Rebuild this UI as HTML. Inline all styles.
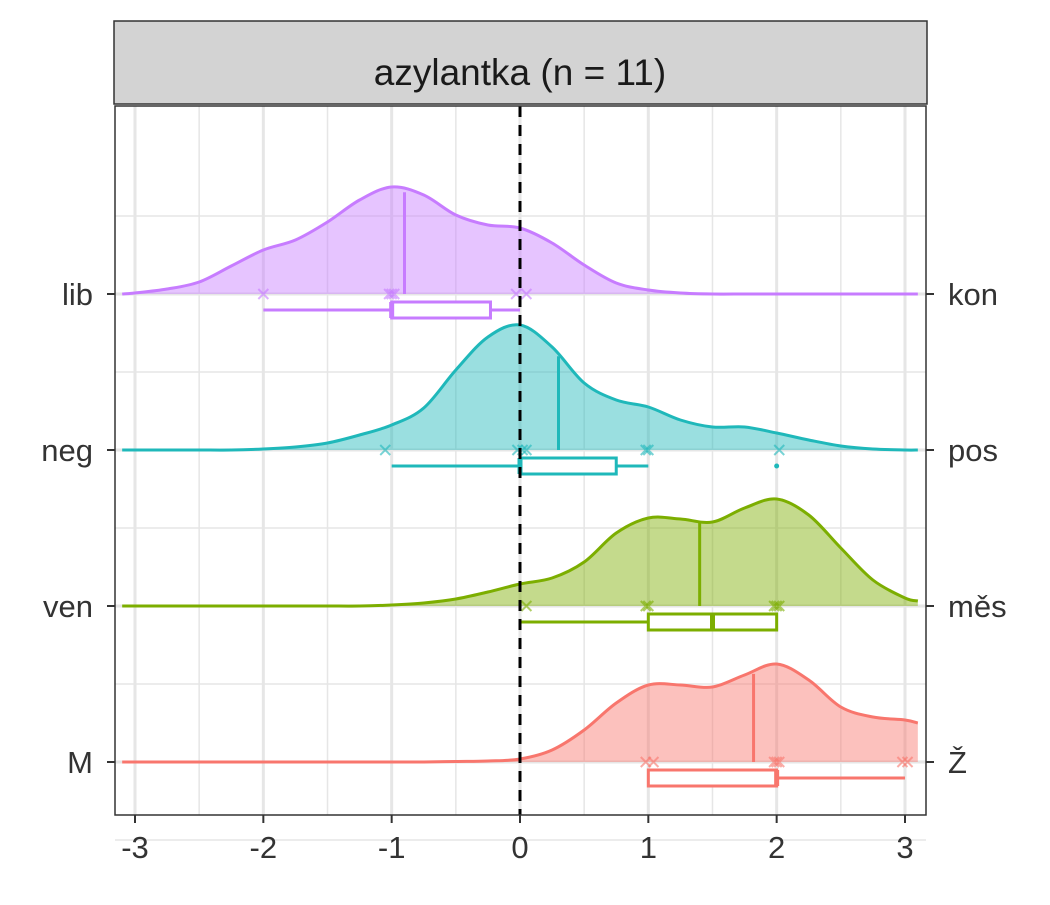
<!DOCTYPE html>
<html><head><meta charset="utf-8"><style>
body{margin:0;background:#fff;}
svg text{font-family:"Liberation Sans",sans-serif;}
</style></head><body>
<svg id="chart" width="1050" height="900" xmlns="http://www.w3.org/2000/svg">
<rect width="1050" height="900" fill="#fff"/>
<g id="strip">
<rect x="114" y="21" width="813" height="83" fill="#D3D3D3" stroke="#333" stroke-width="1.5"/>
<text x="520" y="85" text-anchor="middle" font-size="37" fill="#1a1a1a">azylantka (n = 11)</text>
</g>
<g id="grid"></g>
<g id="marks"></g>
<g id="axes"></g>
</svg>
<script>
const categories = ["lib","neg","ven","M"];
const rightLabels = ["kon","pos","měs","Ž"];
const colors = ["#C77CFF","#1FB8BA","#7CAE00","#F8766D"];
const densX = [-3.1,-3,-2.75,-2.5,-2.25,-2,-1.75,-1.5,-1.25,-1,-0.75,-0.5,-0.25,0,0.25,0.5,0.75,1,1.25,1.5,1.75,2,2.25,2.5,2.75,3,3.1];
const densLib = [0,1,5,12,28,44,54,72,94,107,99,79,69,66,51,29,11,4,1,0,0,0,0,0,0,0,0];
const densNeg = [0,0,0,0,0,1,3,7,15,25,42,80,113,125,103,67,50,43,30,23,23,17,10,4,1,0,0];
const densVen = [0,0,0,0,0,0,0,0,0,1,3,7,14,22,28,44,73,88,87,84,98,107,91,58,26,8,5];
const densM = [0,0,0,0,0,0,0,0,0,0,0,0.5,1,3,12,32,59,77,77,75,87,98,82,55,45,42,39];
const densities = [densLib,densNeg,densVen,densM];
const medians = [-0.9,0.3,1.4,1.82];
const boxQ1 = [-1,0,1,1];
const boxMed = [-1,0,1.5,2];
const boxQ3 = [-0.23,0.75,2,2];
const whiskLo = [-2,-1,0,1];
const whiskHi = [0,1,2,3];
const outliers = [[],[2],[],[]];
const points = [[-2,-1,-1.02,-0.98,-0.03,0.05],[-1.05,-0.02,0.02,0.05,0.98,1,2.02],[0.05,0.98,1,1.98,2,2.02],[0.98,1.04,1.98,2,2.02,2.98,3.02]];
const xTicks = [-3,-2,-1,0,1,2,3];

const NS="http://www.w3.org/2000/svg";
const PL=115,PR=926,PT=106,PB=815;
const X0=520,XU=128.33;
const xs=v=>X0+v*XU;
const base=i=>294+i*156;
const hs=v=>v;
function el(tag,attrs,parent){const e=document.createElementNS(NS,tag);for(const k in attrs)e.setAttribute(k,attrs[k]);parent.appendChild(e);return e;}
const grid=document.getElementById('grid'),marks=document.getElementById('marks'),axes=document.getElementById('axes');
el('rect',{x:PL,y:PT,width:PR-PL,height:PB-PT,fill:'#fff'},grid);
for(let v=-3;v<=3;v+=0.5){const e=el('line',{x1:xs(v),x2:xs(v),y1:PT,y2:PB,stroke:'#E6E6E6','stroke-width':Number.isInteger(v)?3:1.5},grid);

}
for(let i=-1;i<categories.length;i++){
 if(i>=0){const e=el('line',{x1:PL,x2:PR,y1:base(i),y2:base(i),stroke:'#E6E6E6','stroke-width':3},grid);
 
 }
 const m=el('line',{x1:PL,x2:PR,y1:base(i)+78,y2:base(i)+78,stroke:'#E6E6E6','stroke-width':1.5},grid);
 
 
}
categories.forEach((c,i)=>{
 const g=el('g',{},marks);
 
 
 const b=base(i),d=densities[i],col=colors[i];
 const pts=densX.map((x,k)=>[xs(x),b-hs(d[k])]);
 let path='M'+pts[0][0]+','+pts[0][1];
 for(let k=0;k<pts.length-1;k++){
  const p0=pts[Math.max(k-1,0)],p1=pts[k],p2=pts[k+1],p3=pts[Math.min(k+2,pts.length-1)];
  path+=' C'+(p1[0]+(p2[0]-p0[0])/6)+','+(p1[1]+(p2[1]-p0[1])/6)+' '+(p2[0]-(p3[0]-p1[0])/6)+','+(p2[1]-(p3[1]-p1[1])/6)+' '+p2[0]+','+p2[1];
 }
 const fill=el('path',{d:path+' L'+pts[pts.length-1][0]+','+b+' L'+pts[0][0]+','+b+' Z',fill:col,'fill-opacity':0.45,stroke:'none'},g);
 
 
 const line=el('path',{d:path,fill:'none',stroke:col,'stroke-width':3},g);
 
 
 const mx=medians[i];let k=0;while(k<densX.length-2&&densX[k+1]<mx)k++;
 const t=(mx-densX[k])/(densX[k+1]-densX[k]);const h=d[k]+(d[k+1]-d[k])*t;
 const ml=el('line',{x1:xs(mx),x2:xs(mx),y1:b,y2:b-hs(h)+2,stroke:col,'stroke-width':3},g);
 
 
 points[i].forEach(p=>{
  const x=xs(p),s=5;
  const pe=el('path',{d:`M${x-s},${b-s} L${x+s},${b+s} M${x+s},${b-s} L${x-s},${b+s}`,stroke:col,'stroke-width':2,'stroke-opacity':0.6},g);
  
  
 });
 const by=b+16;
 const wl=el('line',{x1:xs(whiskLo[i]),x2:xs(whiskHi[i]),y1:by,y2:by,stroke:col,'stroke-width':3},g);
 
 
 const bx=el('rect',{x:xs(boxQ1[i]),y:by-8,width:xs(boxQ3[i])-xs(boxQ1[i]),height:16,fill:'#fff',stroke:col,'stroke-width':3},g);
 
 
 const bm=el('line',{x1:xs(boxMed[i]),x2:xs(boxMed[i]),y1:by-8,y2:by+8,stroke:col,'stroke-width':5},g);
 
 
 outliers[i].forEach(o=>{const oc=el('circle',{cx:xs(o),cy:by,r:2.5,fill:col},g);
  
  });
});
const zl=el('line',{x1:xs(0),x2:xs(0),y1:PT,y2:PB,stroke:'#000','stroke-width':3,'stroke-dasharray':'11,8'},marks);


el('rect',{x:PL,y:PT,width:PR-PL,height:PB-PT,fill:'none',stroke:'#333','stroke-width':1.5},axes);
xTicks.forEach(v=>{
 el('line',{x1:xs(v),x2:xs(v),y1:PB,y2:PB+8,stroke:'#333','stroke-width':2},axes);
 const t=el('text',{x:xs(v),y:PB+43,'text-anchor':'middle','font-size':31,fill:'#333'},axes);
 t.textContent=v;
 
 
});
categories.forEach((c,i)=>{
 const b=base(i);
 el('line',{x1:PL-8,x2:PL,y1:b,y2:b,stroke:'#333','stroke-width':2},axes);
 el('line',{x1:PR,x2:PR+8,y1:b,y2:b,stroke:'#333','stroke-width':2},axes);
 const t=el('text',{x:PL-22,y:b+11,'text-anchor':'end','font-size':31,fill:'#333'},axes);
 t.textContent=c;
 
 
 const r=el('text',{x:PR+22,y:b+11,'text-anchor':'start','font-size':31,fill:'#333'},axes);
 r.textContent=rightLabels[i];
 
 
});
</script>
</body></html>
